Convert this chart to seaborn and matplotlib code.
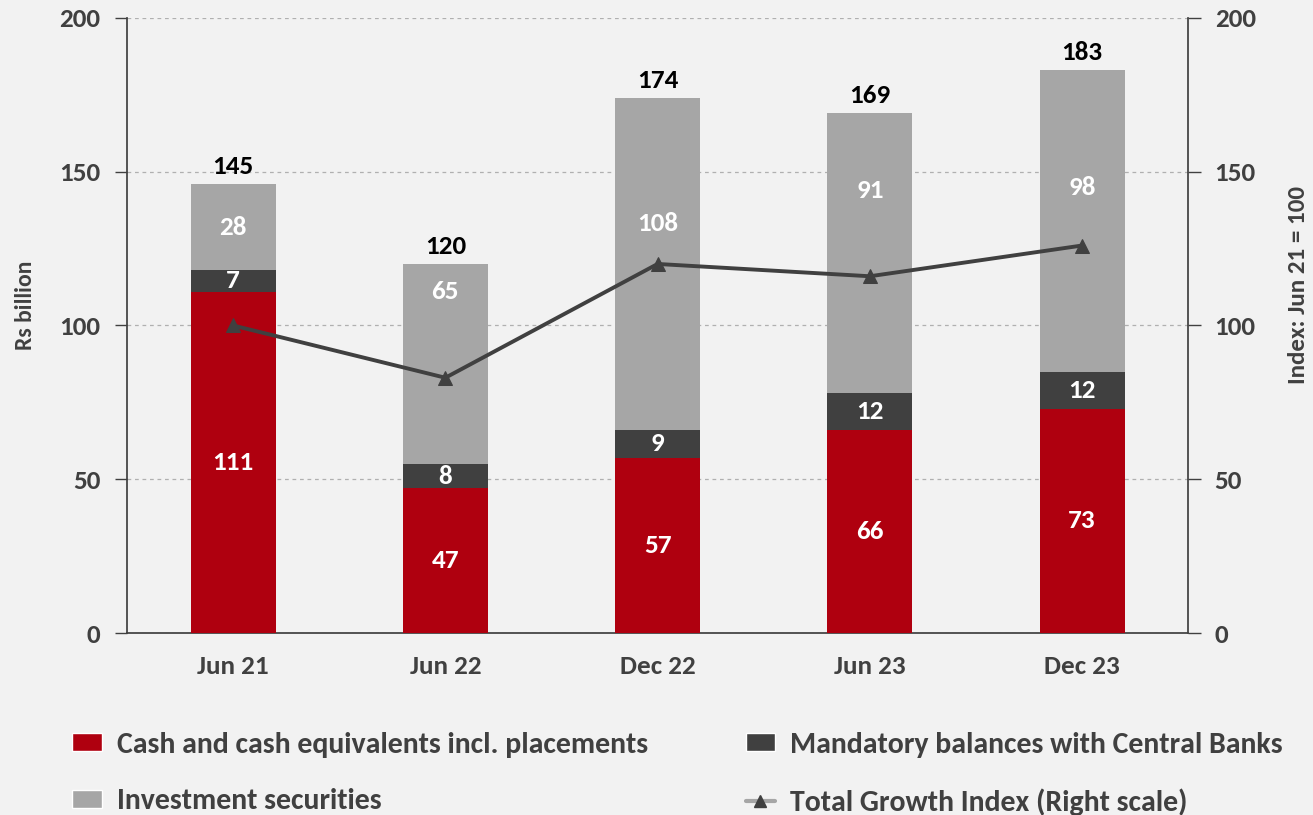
import numpy as np
import pandas as pd
import matplotlib
matplotlib.use("Agg")
import matplotlib.pyplot as plt
from matplotlib.lines import Line2D
from matplotlib.patches import Patch
from matplotlib.ticker import FixedLocator
import seaborn as sns

categories = ["Jun 21", "Jun 22", "Dec 22", "Jun 23", "Dec 23"]
cash = [111, 47, 57, 66, 73]
mandatory = [7, 8, 9, 12, 12]
investment = [28, 65, 108, 91, 98]
totals = [145, 120, 174, 169, 183]
growth_index = [100, 83, 120, 116, 126]

# label placement for investment values (kept clear of the index line, as in the source)
inv_label_y = [132, 111, 133, 144, 145]

RED = "#af000f"
DARK = "#404040"
LIGHT = "#a6a6a6"
BG = "#f2f2f2"
TXT = "#404040"

sns.set_theme(style="white")
plt.rcParams["font.family"] = ["Carlito", "Lato", "DejaVu Sans"]
plt.rcParams["font.weight"] = "bold"

fig = plt.figure(figsize=(13.13, 8.15), dpi=100, facecolor=BG)
ax = fig.add_axes([0.0967, 0.2233, 0.8083, 0.7547])
ax.set_facecolor(BG)

cum_dark = [c + m for c, m in zip(cash, mandatory)]
cum_total = [c + m + i for c, m, i in zip(cash, mandatory, investment)]

df = pd.DataFrame({"cat": categories, "total": cum_total, "mid": cum_dark, "cash": cash})
sns.barplot(data=df, x="cat", y="total", color=LIGHT, saturation=1, width=0.4, ax=ax, zorder=2)
sns.barplot(data=df, x="cat", y="mid", color=DARK, saturation=1, width=0.4, ax=ax, zorder=3)
sns.barplot(data=df, x="cat", y="cash", color=RED, saturation=1, width=0.4, ax=ax, zorder=4)
for p in ax.patches:
    p.set_edgecolor("none")

ax.set_ylim(0, 200)
ax.set_xlim(-0.5, 4.5)
ax.set_yticks([0, 50, 100, 150, 200])
ax.yaxis.grid(True, linestyle=(0, (3, 3)), color="#b0b0b0", linewidth=0.9)
ax.set_axisbelow(True)
ax.set_xlabel("")
ax.set_ylabel("Rs billion", fontsize=17, fontweight="bold", color=TXT)
ax.yaxis.set_label_coords(-0.086, 0.532)
for s in ["top", "right"]:
    ax.spines[s].set_visible(False)
ax.spines["left"].set_color("#404040")
ax.spines["bottom"].set_color("#404040")
ax.tick_params(axis="y", which="major", length=9, width=1, color="#404040", direction="out",
               labelsize=19.5, labelcolor=TXT, pad=10)
ax.tick_params(axis="x", which="major", length=0, labelsize=19.5, labelcolor=TXT, pad=16)
ax.xaxis.set_minor_locator(FixedLocator([-0.5, 0.5, 1.5, 2.5, 3.5, 4.5]))
ax.tick_params(axis="x", which="minor", length=7, width=1, color="#404040", direction="out")
for lab in ax.get_xticklabels() + ax.get_yticklabels():
    lab.set_fontweight("bold")

ax2 = ax.twinx()
sns.lineplot(x=np.arange(len(categories)), y=growth_index, ax=ax2, color="#404040",
             linewidth=2.8, marker="^", markersize=10, markeredgecolor="#404040", zorder=5)
ax2.set_ylim(0, 200)
ax2.set_yticks([0, 50, 100, 150, 200])
ax2.set_ylabel("Index: Jun 21 = 100", fontsize=18, fontweight="bold", color=TXT)
ax2.yaxis.set_label_coords(1.094, 0.566)
for s in ["top", "left", "bottom"]:
    ax2.spines[s].set_visible(False)
ax2.spines["right"].set_color("#404040")
ax2.tick_params(axis="y", length=9, width=1, color="#404040", direction="out",
                labelsize=19.5, labelcolor=TXT, pad=10)
for lab in ax2.get_yticklabels():
    lab.set_fontweight("bold")

# value labels (drawn on the top axes so they stay above the line)
for i in range(len(categories)):
    ax2.text(i, cash[i] / 2, f"{cash[i]}", ha="center", va="center", color="white",
             fontsize=19.5, fontweight="bold", zorder=6)
    ax2.text(i, cash[i] + mandatory[i] / 2, f"{mandatory[i]}", ha="center", va="center",
             color="white", fontsize=19.5, fontweight="bold", zorder=6)
    ax2.text(i, inv_label_y[i], f"{investment[i]}", ha="center", va="center",
             color="white", fontsize=19.5, fontweight="bold", zorder=6)
    ax2.text(i, cum_total[i] + 2.0, f"{totals[i]}", ha="center", va="bottom", color="black",
             fontsize=19.5, fontweight="bold", zorder=6)

handles = [
    Patch(facecolor=RED, label="Cash and cash equivalents incl. placements"),
    Patch(facecolor=LIGHT, label="Investment securities"),
    Patch(facecolor=DARK, label="Mandatory balances with Central Banks"),
    Line2D([0], [0], color="#a6a6a6", linewidth=3, marker="^", markersize=9,
           markerfacecolor="#404040", markeredgecolor="#404040",
           label="Total Growth Index (Right scale)"),
]
leg = fig.legend(handles=handles, loc="upper left", bbox_to_anchor=(0.0548, 0.102), ncol=2,
                 frameon=False, columnspacing=3.27, handlelength=1.0, handleheight=0.55,
                 handletextpad=0.5, labelspacing=1.02, labelcolor=TXT,
                 borderpad=0, borderaxespad=0,
                 prop={"weight": "bold", "size": 21.5})

fig.savefig("out.png", dpi=100, facecolor=BG)
